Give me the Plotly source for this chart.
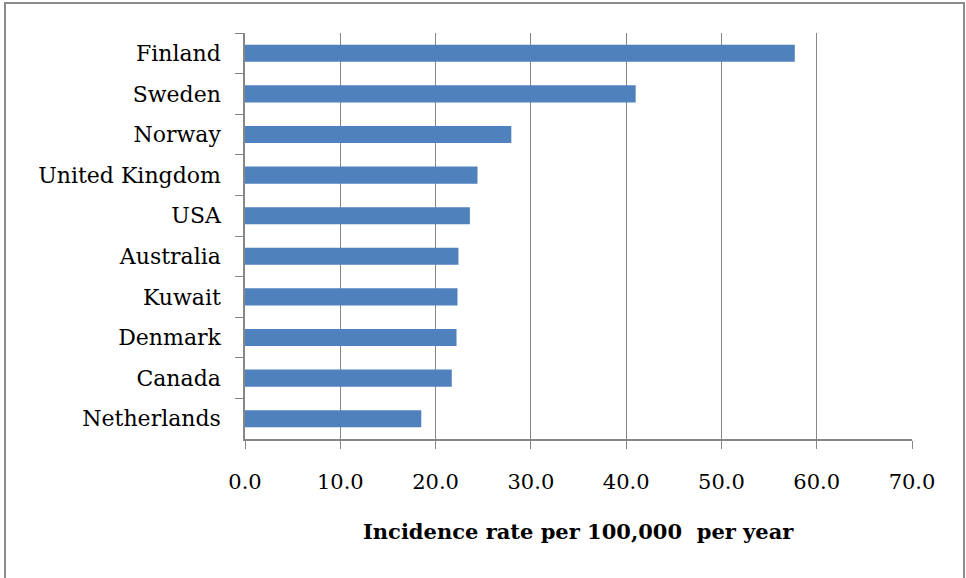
import plotly.graph_objects as go

countries = ["Finland", "Sweden", "Norway", "United Kingdom", "USA", "Australia",
             "Kuwait", "Denmark", "Canada", "Netherlands"]
rates = [57.7, 41.0, 27.95, 24.4, 23.6, 22.4, 22.3, 22.2, 21.7, 18.5]
x_ticks = [0, 10, 20, 30, 40, 50, 60, 70]
x_tick_labels = ["0.0", "10.0", "20.0", "30.0", "40.0", "50.0", "60.0", "70.0"]
x_title = "Incidence rate per 100,000  per year"

W, H = 966, 578
L, R, T, B = 245, 54, 33, 139
pw, ph = W - L - R, H - T - B

def px_x(x):
    return (x - L) / pw

def px_y(y):
    return (H - B - y) / ph

fig = go.Figure(go.Bar(
    x=rates, y=countries, orientation="h",
    marker=dict(color="#4F81BD", line=dict(width=0)),
    width=0.42,
))

fig.update_layout(
    width=W, height=H,
    margin=dict(l=L, r=R, t=T, b=B),
    paper_bgcolor="white", plot_bgcolor="white",
    showlegend=False,
    font=dict(family="DejaVu Serif", color="black"),
    xaxis=dict(
        range=[0, 70], tickvals=x_ticks, ticktext=x_tick_labels,
        showgrid=True, gridcolor="#868686", gridwidth=1.3,
        showline=True, linecolor="#868686", linewidth=2,
        ticks="outside", ticklen=8, tickcolor="#868686", tickwidth=1.3,
        tickfont=dict(size=21, family="DejaVu Serif", color="black"),
        ticklabelstandoff=15, zeroline=False, fixedrange=True,
    ),
    yaxis=dict(
        type="category", categoryorder="array", categoryarray=countries,
        autorange="reversed",
        showline=True, linecolor="#868686", linewidth=1.5,
        ticks="outside", ticklen=8, tickcolor="#868686", tickwidth=1.3,
        tickson="boundaries",
        tickfont=dict(size=22, family="DejaVu Serif", color="black"),
        ticklabelstandoff=18, showgrid=False, fixedrange=True,
    ),
    annotations=[dict(
        text="<b>" + x_title + "</b>", xref="paper", yref="paper",
        x=0.5, y=px_y(531), xanchor="center", yanchor="middle",
        showarrow=False, font=dict(size=21, family="DejaVu Serif", color="black"),
    )],
    shapes=[dict(
        type="rect", xref="paper", yref="paper",
        x0=px_x(5), x1=px_x(964), y0=px_y(590), y1=px_y(3),
        line=dict(color="#8c8c8c", width=2), fillcolor="rgba(0,0,0,0)", layer="below",
    )],
)

fig.write_html("out.html")
